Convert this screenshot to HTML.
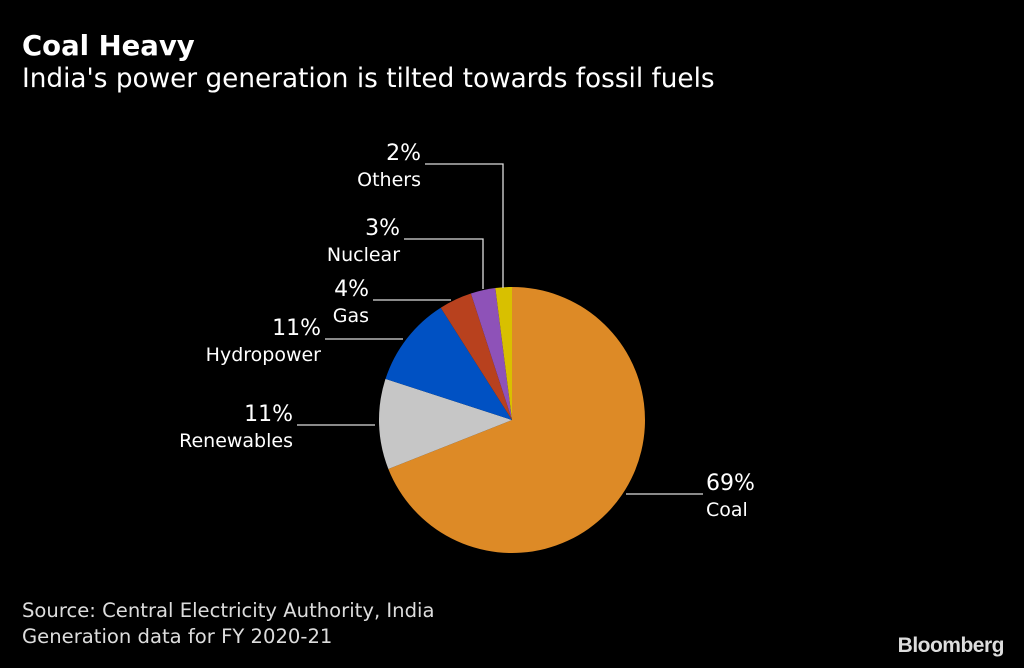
<!DOCTYPE html>
<html><head><meta charset="utf-8"><style>
body{margin:0;background:#000;width:1024px;height:668px;overflow:hidden;font-family:"DejaVu Sans","Liberation Sans",sans-serif;color:#fff}
#t{position:absolute;left:22px;top:30px;font-size:27.5px;font-weight:bold}
#s{position:absolute;left:22px;top:64px;font-size:26.3px}
#src{position:absolute;left:22px;top:598px;font-size:19.6px;line-height:26px;color:#ddd}
#logo{position:absolute;right:20px;top:634px;font-family:"Liberation Sans",sans-serif;font-size:21px;font-weight:bold;letter-spacing:-0.5px;color:#ddd}
svg{position:absolute;left:0;top:0;font-family:"DejaVu Sans","Liberation Sans",sans-serif}
</style></head><body>
<div id="t">Coal Heavy</div>
<div id="s">India's power generation is tilted towards fossil fuels</div>
<svg id="c" width="1024" height="668"></svg>
<div id="src">Source: Central Electricity Authority, India<br>Generation data for FY 2020-21</div>
<div id="logo">Bloomberg</div>
<script>
const categories=["Coal","Renewables","Hydropower","Gas","Nuclear","Others"];
const values=[69,11,11,4,3,2];
const colors=["#dd8a26","#c6c6c6","#0051c3","#b8411e","#8e52b8","#d8c000"];
const svg=document.getElementById('c');const NS="http://www.w3.org/2000/svg";
const cx=512,cy=420,r=133;
const total=values.reduce((a,b)=>a+b,0);
function pt(a,rr){return [cx+rr*Math.sin(a),cy-rr*Math.cos(a)];}
let acc=0;
values.forEach((v,i)=>{
 const a0=acc/total*2*Math.PI;acc+=v;const a1=acc/total*2*Math.PI;
 const p0=pt(a0,r),p1=pt(a1,r);
 const p=document.createElementNS(NS,'path');
 p.setAttribute('d',`M${cx},${cy}L${p0[0]},${p0[1]}A${r},${r} 0 ${a1-a0>Math.PI?1:0} 1 ${p1[0]},${p1[1]}Z`);
 p.setAttribute('fill',colors[i]);
 
 
 svg.appendChild(p);
});
const lay=[[494,626,703,null,706,'start'],[425,297,375,null,293,'end'],[339,325,403,null,321,'end'],[300,373,451,null,369,'end'],[239,404,483,289,400,'end'],[164,425,503,288,421,'end']];
values.forEach((v,i)=>{
 const L=lay[i];
 const pl=document.createElementNS(NS,'polyline');
 let pts=`${L[1]},${L[0]} ${L[2]},${L[0]}`;if(L[3])pts+=` ${L[2]},${L[3]}`;
 pl.setAttribute('points',pts);pl.setAttribute('fill','none');pl.setAttribute('stroke','#ddd');pl.setAttribute('stroke-width','1.3');
 
 
 svg.appendChild(pl);
 const t1=document.createElementNS(NS,'text');
 t1.setAttribute('x',L[4]);t1.setAttribute('y',L[0]-4);t1.setAttribute('text-anchor',L[5]);
 t1.setAttribute('fill','#fff');t1.setAttribute('font-size','22');t1.textContent=v+'%';
 
 
 svg.appendChild(t1);
 const t2=document.createElementNS(NS,'text');
 t2.setAttribute('x',L[4]);t2.setAttribute('y',L[0]+22);t2.setAttribute('text-anchor',L[5]);
 t2.setAttribute('fill','#fff');t2.setAttribute('font-size','19');t2.textContent=categories[i];
 
 
 svg.appendChild(t2);
});
</script>
</body></html>
